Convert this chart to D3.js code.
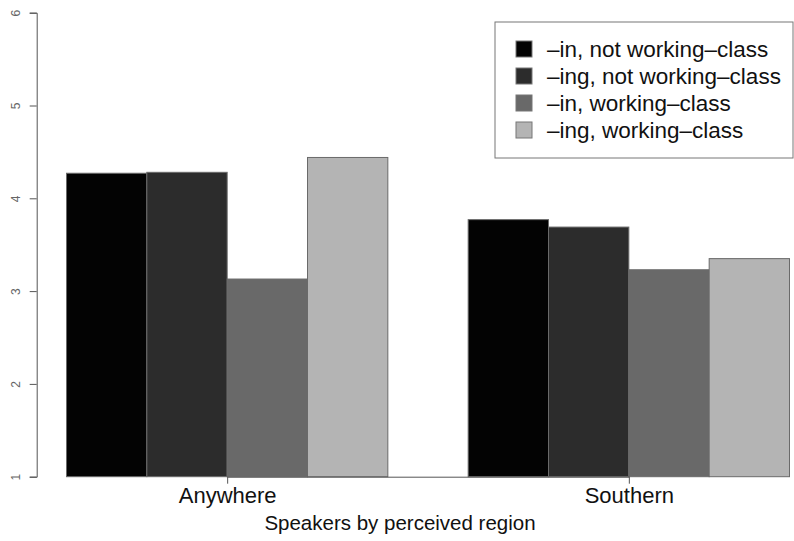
<!DOCTYPE html>
<html>
<head>
<meta charset="utf-8">
<script src="https://cdn.jsdelivr.net/npm/d3@7"></script>
<style>
  html, body { margin: 0; padding: 0; background: #fff; }
  svg { display: block; font-family: "Liberation Sans", Arial, Helvetica, sans-serif; }
</style>
</head>
<body>
<svg id="chart" width="794" height="541"></svg>
<script>
// Mean ratings by perceived region, split by variant and class
const regions = ["Anywhere", "Southern"];
const seriesNames = [
  "\u2013in, not working\u2013class",
  "\u2013ing, not working\u2013class",
  "\u2013in, working\u2013class",
  "\u2013ing, working\u2013class"
];
const seriesColors = ["#030303", "#2c2c2c", "#696969", "#b4b4b4"];
const anywhereValues = [4.27, 4.28, 3.13, 4.44];
const southernValues = [3.77, 3.69, 3.23, 3.35];
const yTicks = [1, 2, 3, 4, 5, 6];
const xTitle = "Speakers by perceived region";

const valuesByRegion = [anywhereValues, southernValues];
const rows = regions.map((r, i) => ({
  region: r,
  bars: seriesNames.map((s, j) => ({ series: s, value: valuesByRegion[i][j], idx: j }))
}));

const svg = d3.select("#chart");

// Plot geometry
const plot = { left: 36.7, bottom: 476.7, top: 12.7, barLeft: 66.5, barRight: 789.5 };

const y = d3.scaleLinear().domain([1, 6]).range([plot.bottom, plot.top]);

// Groups are separated by one bar width (4 bars + 1 gap per step)
const x0 = d3.scaleBand()
  .domain(regions)
  .range([plot.barLeft, plot.barRight])
  .paddingInner(0.2)
  .paddingOuter(0);

const x1 = d3.scaleBand()
  .domain(seriesNames)
  .range([0, x0.bandwidth()])
  .padding(0);

const color = d3.scaleOrdinal().domain(seriesNames).range(seriesColors);

// Bars
const groups = svg.append("g").selectAll("g")
  .data(rows)
  .join("g")
  .attr("transform", d => `translate(${x0(d.region)},0)`);

groups.selectAll("rect")
  .data(d => d.bars)
  .join("rect")
  .attr("x", d => x1(d.series))
  .attr("width", x1.bandwidth())
  .attr("y", d => y(d.value))
  .attr("height", d => y(1) - y(d.value))
  .attr("fill", d => color(d.series))
  .attr("stroke", "#6a6a6a")
  .attr("stroke-width", 1);

// Y axis (labels parallel to the axis)
const yAxis = d3.axisLeft(y)
  .tickValues(yTicks)
  .tickFormat(d3.format("d"))
  .tickSize(7)
  .tickPadding(0);

const yg = svg.append("g")
  .attr("transform", `translate(${plot.left},0)`)
  .call(yAxis);
yg.select(".domain").attr("stroke", "#555").attr("stroke-width", 1);
yg.selectAll(".tick line").attr("stroke", "#555");
yg.selectAll(".tick text")
  .attr("fill", "#666")
  .attr("font-size", 12)
  .attr("text-anchor", "middle")
  .attr("x", null)
  .attr("dy", null)
  .attr("transform", "translate(-21,0) rotate(-90)")
  .attr("y", 4);

// X axis at group centres
const xAxis = d3.axisBottom(d3.scalePoint()
    .domain(regions)
    .range([x0(regions[0]) + x0.bandwidth() / 2, x0(regions[1]) + x0.bandwidth() / 2]))
  .tickSize(7)
  .tickSizeOuter(0)
  .tickPadding(4);

const xg = svg.append("g")
  .attr("transform", `translate(0,${plot.bottom})`)
  .call(xAxis);
xg.select(".domain").attr("stroke", "#555");
xg.selectAll(".tick line").attr("stroke", "#555");
xg.selectAll(".tick text")
  .attr("fill", "#111")
  .attr("font-size", 22);

// Axis title
svg.append("text")
  .attr("x", 400)
  .attr("y", 530)
  .attr("text-anchor", "middle")
  .attr("font-size", 20.5)
  .attr("fill", "#111")
  .text(xTitle);

// Legend
const legend = svg.append("g").attr("transform", "translate(495,22)");
legend.append("rect")
  .attr("x", 0).attr("y", 0)
  .attr("width", 298).attr("height", 136)
  .attr("fill", "#fff")
  .attr("stroke", "#777")
  .attr("stroke-width", 1);

const items = legend.selectAll("g.item")
  .data(seriesNames)
  .join("g")
  .attr("class", "item")
  .attr("transform", (d, i) => `translate(0,${27 + i * 27})`);

items.append("rect")
  .attr("x", 21).attr("y", -8)
  .attr("width", 16).attr("height", 16)
  .attr("fill", d => color(d))
  .attr("stroke", "#777");

items.append("text")
  .attr("x", 52)
  .attr("y", 8)
  .attr("font-size", 22.5)
  .attr("fill", "#111")
  .text(d => d);
</script>
</body>
</html>
